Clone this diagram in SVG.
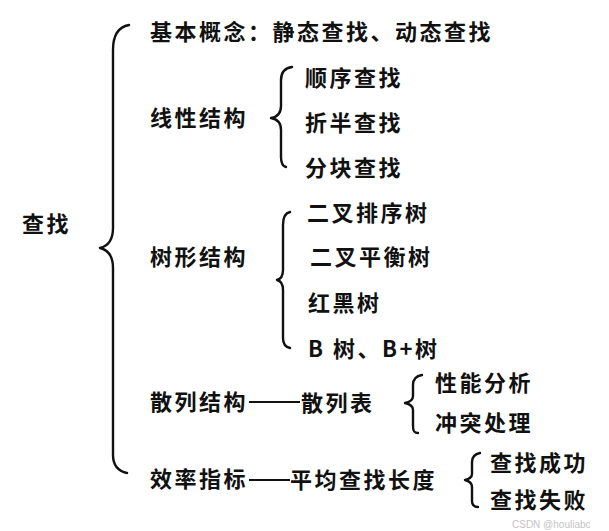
<svg xmlns="http://www.w3.org/2000/svg" width="609" height="531" viewBox="0 0 609 531">
<style>
text.t{font-family:"Noto Sans CJK SC","Noto Sans CJK JP",sans-serif;font-size:22px;font-weight:bold;fill:#111;letter-spacing:2.5px}
.br{fill:none;stroke:#111;stroke-width:2.4;stroke-linecap:round;stroke-linejoin:round}
.ln{stroke:#111;stroke-width:2}
</style>
<rect width="609" height="531" fill="#fff"/>
<g id="root"><text class="t" x="22" y="232">查找</text></g>
<g id="concept"><text class="t" x="150" y="40">基本概念：静态查找、动态查找</text></g>
<g id="linear"><text class="t" x="150" y="126">线性结构</text></g>
<g id="seq"><text class="t" x="305" y="86">顺序查找</text></g>
<g id="binary"><text class="t" x="305" y="131">折半查找</text></g>
<g id="block"><text class="t" x="305" y="176">分块查找</text></g>
<g id="tree"><text class="t" x="150" y="265">树形结构</text></g>
<g id="bst"><text class="t" x="307" y="221">二叉排序树</text></g>
<g id="avl"><text class="t" x="310" y="265">二叉平衡树</text></g>
<g id="rbt"><text class="t" x="308" y="311">红黑树</text></g>
<g id="btree"><text class="t" x="308" y="357">B 树、B+树</text></g>
<g id="hash"><text class="t" x="150" y="410">散列结构</text></g>
<g id="hashtable"><text class="t" x="301" y="411">散列表</text></g>
<g id="perf"><text class="t" x="435" y="391">性能分析</text></g>
<g id="conflict"><text class="t" x="435" y="431">冲突处理</text></g>
<g id="eff"><text class="t" x="150" y="487">效率指标</text></g>
<g id="asl"><text class="t" x="290" y="488">平均查找长度</text></g>
<g id="succ"><text class="t" x="490" y="471">查找成功</text></g>
<g id="fail"><text class="t" x="490" y="508">查找失败</text></g>
<g id="connectors">
<path class="br" d="M129,25 C118,27 113,35 113,50 L113,228 C113,240 108,246 100,248 C108,250 113,256 113,268 L113,455 C113,465 118,471 127,473"/>
<path class="br" d="M292,67 C285,68 281,72 281,80 L281,106 C281,113 277,117 271,118 C277,119 281,123 281,130 L281,157 C281,163 282,166 286,167"/>
<path class="br" d="M290,212 C285,213 283,217 283,225 L283,270 C283,276 281,279 277,280 C281,281 283,284 283,290 L283,338 C283,344 285,347 290,348"/>
<path class="br" d="M422,375 C416,376 413,379 413,385 L413,396 C413,400 410,402 405,403 C410,404 413,406 413,410 L413,426 C413,431 414,433 418,433"/>
<path class="br" d="M480,453 C475,454 472,457 472,462 L472,474 C472,478 469,479 465,480 C469,481 472,483 472,487 L472,501 C472,505 474,507 478,507"/>
<line class="ln" x1="249" y1="402" x2="300" y2="402"/>
<line class="ln" x1="249" y1="480" x2="290" y2="480"/>
</g>
<text x="512" y="528" font-family="Liberation Sans, sans-serif" font-size="10" fill="#c4c4c4">CSDN @houliabc</text>
</svg>
